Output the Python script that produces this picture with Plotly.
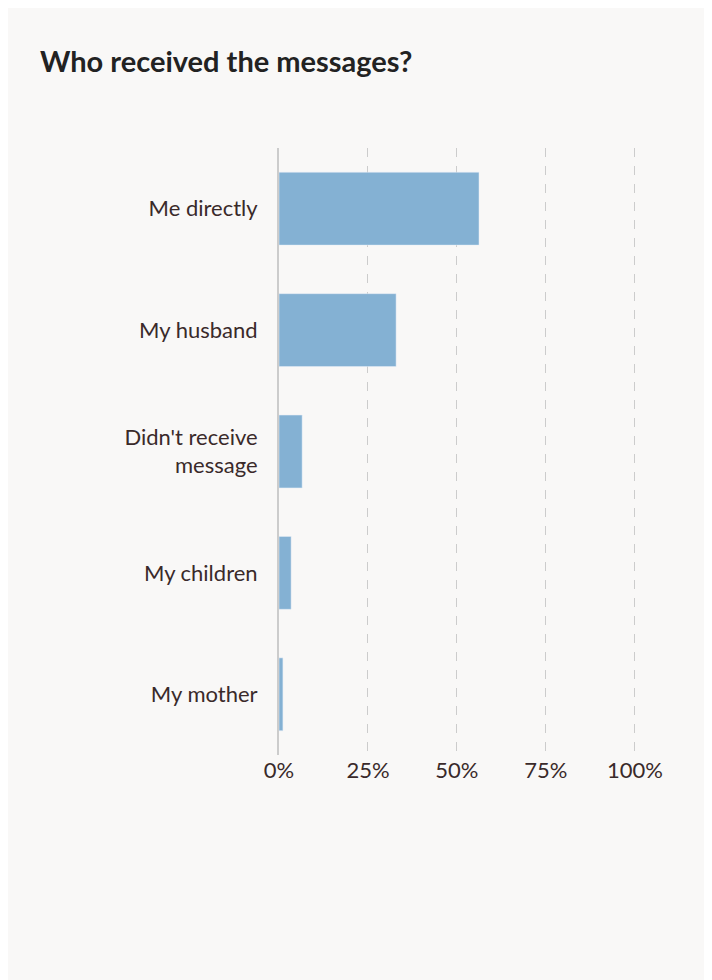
import plotly.graph_objects as go

# share of respondents (%)
categories = ["Me directly", "My husband", "Didn't receive<br>message", "My children", "My mother"]
values = [56.2, 32.9, 6.5, 3.4, 1.1]
tick_vals = [0, 25, 50, 75, 100]
tick_text = ["0%", "25%", "50%", "75%", "100%"]

fig = go.Figure()
fig.add_trace(go.Bar(
    x=values, y=categories, orientation="h",
    marker_color="#84b1d3", hoverinfo="x+y",
))
fig.update_layout(
    width=712, height=980,
    paper_bgcolor="#f9f8f7", plot_bgcolor="#f9f8f7",
    margin=dict(l=271, r=83, t=140, b=233),
    font=dict(family="Lato, sans-serif", size=22, color="#3a2a2a"),
    title=dict(text="<b>Who received the messages?</b>", x=32/712, xanchor="left",
               y=1-54/980, yanchor="middle", font=dict(size=29, color="#222222")),
    bargap=0.4,
    showlegend=False,
)
fig.update_xaxes(
    range=[0, 100.6], tickvals=tick_vals, ticktext=tick_text,
    showgrid=True, gridcolor="#cccccc", griddash="dash", gridwidth=1,
    zeroline=False, showline=False, ticks="", fixedrange=True,
)
fig.update_yaxes(
    autorange="reversed", showline=True, linecolor="#cccccc", linewidth=2,
    ticks="", ticklabelstandoff=15, showgrid=False, fixedrange=True,
)
fig.write_html("out.html")
